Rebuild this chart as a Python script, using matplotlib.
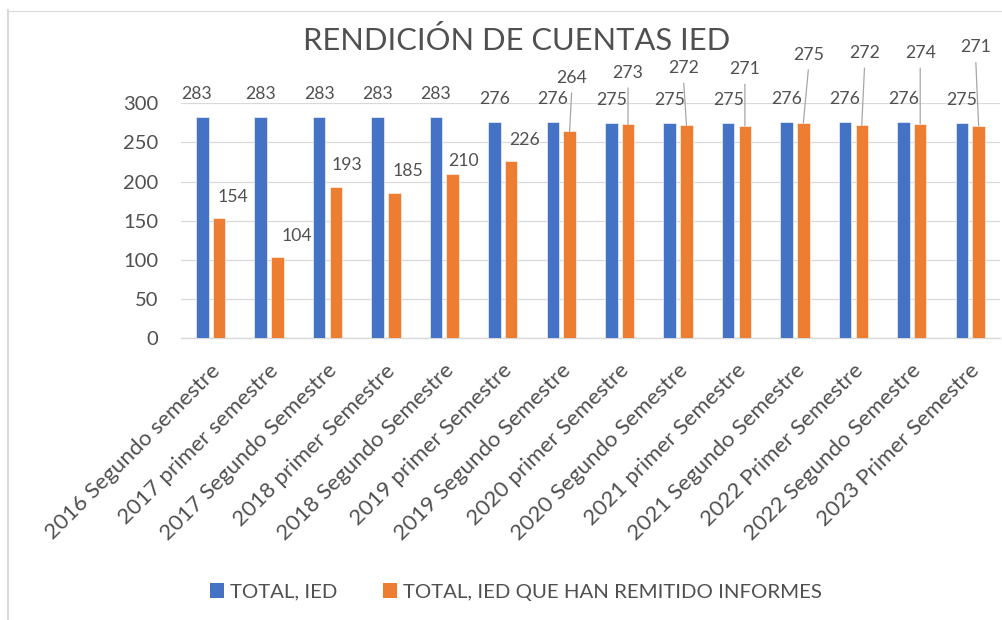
import numpy as np
import matplotlib
matplotlib.use("Agg")
import matplotlib.pyplot as plt
import matplotlib.transforms as mtransforms
from matplotlib.lines import Line2D
from matplotlib.patches import Patch

# ---------------- data ----------------
categories = [
    "2016 Segundo semestre", "2017 primer semestre", "2017 Segundo Semestre",
    "2018 primer Semestre", "2018 Segundo Semestre", "2019 primer Semestre",
    "2019 Segundo Semestre", "2020 primer Semestre", "2020 Segundo Semestre",
    "2021 primer Semestre", "2021 Segundo Semestre", "2022 Primer Semestre",
    "2022 Segundo Semestre", "2023 Primer Semestre",
]
total_ied = [283, 283, 283, 283, 283, 276, 276, 275, 275, 275, 276, 276, 276, 275]
total_remitido = [154, 104, 193, 185, 210, 226, 264, 273, 272, 271, 275, 272, 274, 271]
series_names = ["TOTAL, IED", "TOTAL, IED QUE HAN REMITIDO INFORMES"]
title_text = "RENDICIÓN DE CUENTAS IED"
y_ticks = [0, 50, 100, 150, 200, 250, 300]

# ---------------- layout / style ----------------
W, H, DPI = 1002, 620, 100
FONT = "Lato"
TXT = "#505050"
BLUE = "#4472C4"
ORANGE = "#ED7D31"
GRID = "#D9D9D9"
LEADER = "#A6A6A6"

# label offsets in pixels (label centre relative to bar top centre)
blue_dx = [-5.6] + [0] * 13
blue_dy = [24] * 14
orange_dx = [14, 19, 11, 14, 11, 13.7, 2, 0, -2.7, 0, 5, 2.7, 0, -2.8]
orange_dy = [22, 22.5, 23, 23.4, 14.5, 23, 55, 53, 58.6, 58.3, 69.6, 73.6, 72, 80]
leader = [False] * 6 + [True] * 8

fig = plt.figure(figsize=(W / DPI, H / DPI), dpi=DPI)
renderer = fig.canvas.get_renderer()


def fit_size(text, target_px, base=20.0):
    t = fig.text(0, 0, text, fontsize=base, family=FONT)
    w = t.get_window_extent(renderer).width
    t.remove()
    return base * target_px / w


fs_title = fit_size(title_text, 426)
fs_ytick = fit_size("300", 35)
fs_dlab = fit_size("283", 30.5)
fs_xtick = fit_size(categories[0], 238)
fs_leg = fit_size(series_names[1], 418)

ax_l, ax_r, ax_b, ax_t = 181.4, 999.5, 338.3, 103.3
ax = fig.add_axes([ax_l / W, 1 - ax_b / H, (ax_r - ax_l) / W, (ax_b - ax_t) / H])

x = np.arange(len(categories))
bw = 0.214
off = 0.143
ax.bar(x - off, total_ied, bw, color=BLUE, edgecolor="white", linewidth=0.4, zorder=3)
ax.bar(x + off, total_remitido, bw, color=ORANGE, edgecolor="white", linewidth=0.4, zorder=3)

ax.set_xlim(-0.5, len(categories) - 0.5)
ax.set_ylim(0, 300)
ax.set_yticks(y_ticks)
ax.set_xticks([])
ax.yaxis.grid(True, color=GRID, linewidth=0.9, zorder=0)
ax.set_axisbelow(True)
for s in ["left", "right", "top"]:
    ax.spines[s].set_visible(False)
ax.spines["bottom"].set_color(GRID)
ax.spines["bottom"].set_linewidth(1.0)
ax.tick_params(axis="y", length=0, pad=23 * 72 / DPI, labelsize=fs_ytick, labelcolor=TXT)
for lab in ax.get_yticklabels():
    lab.set_family(FONT)

# category labels
base_tr = mtransforms.blended_transform_factory(ax.transData, ax.transAxes)
for i, c in enumerate(categories):
    tr = base_tr + mtransforms.ScaledTranslation(10.5 / DPI, -33.5 / DPI, fig.dpi_scale_trans)
    ax.text(i, 0, c, transform=tr, rotation=45, rotation_mode="anchor",
            ha="right", va="baseline", fontsize=fs_xtick, color=TXT, family=FONT,
            clip_on=False)

# data labels
cap = fs_dlab * DPI / 72 * 0.72  # approx digit height in px
for i in range(len(categories)):
    v = total_ied[i]
    ax.annotate(str(v), xy=(x[i] - off, v), xytext=(blue_dx[i], blue_dy[i] - cap / 2),
                textcoords="offset pixels", ha="center", va="baseline",
                fontsize=fs_dlab, color=TXT, family=FONT, annotation_clip=False)
    v = total_remitido[i]
    ax.annotate(str(v), xy=(x[i] + off, v), xytext=(orange_dx[i], orange_dy[i] - cap / 2),
                textcoords="offset pixels", ha="center", va="baseline",
                fontsize=fs_dlab, color=TXT, family=FONT, annotation_clip=False)
    if leader[i]:
        ax.annotate("", xy=(x[i] + off, v), xytext=(orange_dx[i], orange_dy[i] - 16.5),
                    textcoords="offset pixels", annotation_clip=False,
                    arrowprops=dict(arrowstyle="-", color=LEADER, lw=0.9,
                                    shrinkA=0, shrinkB=0))

# title
fig.text(517 / W, 1 - 38.3 / H, title_text, ha="center", va="center_baseline",
         fontsize=fs_title, color=TXT, family=FONT)

# legend
leg_px = fs_leg * DPI / 72
sq = 14.0 / leg_px
handles = [Patch(facecolor=BLUE), Patch(facecolor=ORANGE)]
fig.legend(handles, series_names, loc="center", bbox_to_anchor=(516 / W, 1 - 592 / H),
           ncol=2, frameon=False, prop={"family": FONT, "size": fs_leg},
           labelcolor=TXT, handlelength=sq, handleheight=sq,
           handletextpad=6.0 / leg_px, columnspacing=46.0 / leg_px, borderaxespad=0)

# chart frame (left + top)
fig.add_artist(Line2D([7.7 / W, 7.7 / W], [0, 1 - 10 / H], transform=fig.transFigure,
                      color=GRID, linewidth=1.5))
fig.add_artist(Line2D([7.7 / W, 1], [1 - 10.5 / H, 1 - 10.5 / H], transform=fig.transFigure,
                      color=GRID, linewidth=0.8))

fig.savefig("out.png", dpi=DPI)
